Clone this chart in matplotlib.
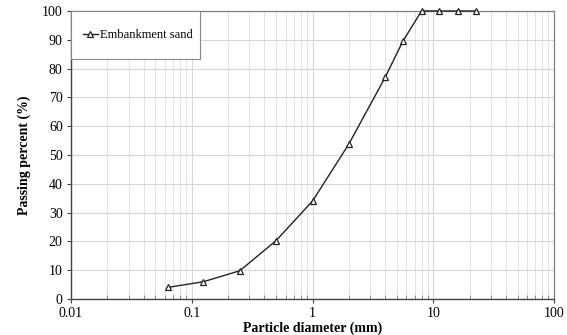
import numpy as np
import matplotlib.pyplot as plt
from matplotlib.patches import Rectangle
from matplotlib.ticker import FixedLocator, NullFormatter

# Grain size distribution data
diameter = [0.063, 0.125, 0.25, 0.5, 1.0, 2.0, 4.0, 5.6, 8.0, 11.2, 16.0, 22.4]
passing = [4.0, 6.0, 9.8, 20.3, 34.0, 53.8, 77.0, 89.5, 100.0, 100.0, 100.0, 100.0]
x_ticks = [0.01, 0.1, 1, 10, 100]
x_tick_labels = ['0.01', '0.1', '1', '10', '100']
y_ticks = [0, 10, 20, 30, 40, 50, 60, 70, 80, 90, 100]

plt.rcParams['font.family'] = ['Liberation Serif', 'DejaVu Serif']

fig = plt.figure(figsize=(5.67, 3.35), dpi=100)
ax = fig.add_axes([0.1252, 0.1075, 0.8519, 0.8597])

ax.plot(diameter, passing, color='#222222', lw=1.0, marker='^', markersize=5,
        markerfacecolor='white', markeredgecolor='#222222', markeredgewidth=0.9,
        label='Embankment sand', clip_on=False, zorder=3)

ax.set_xscale('log')
ax.set_xlim(0.01, 100)
ax.set_ylim(0, 100)
ax.set_xticks(x_ticks)
ax.set_xticklabels(x_tick_labels)
minor = [m * d for d in x_ticks[:-1] for m in range(2, 10)]
ax.xaxis.set_minor_locator(FixedLocator(minor))
ax.xaxis.set_minor_formatter(NullFormatter())
ax.set_yticks(y_ticks)

ax.grid(True, which='major', color='#d6d6d6', lw=0.8)
ax.grid(True, which='minor', axis='x', color='#e3e3e3', lw=0.7)
ax.set_axisbelow(True)

ax.tick_params(axis='both', which='major', labelsize=10, length=3, width=0.8,
               color='#444444', pad=3)
ax.tick_params(axis='x', which='minor', direction='in', length=3, width=0.6,
               color='#777777')

for side in ['left', 'bottom']:
    ax.spines[side].set_color('#444444')
    ax.spines[side].set_linewidth(1.0)
for side in ['top', 'right']:
    ax.spines[side].set_color('#808080')
    ax.spines[side].set_linewidth(0.9)

ax.set_xlabel('Particle diameter (mm)', fontsize=10, fontweight='bold', labelpad=1)
ax.set_ylabel('Passing percent (%)', fontsize=10, fontweight='bold', labelpad=8)

# legend box drawn separately so its padding matches the original
box_top, box_bottom, box_right = 1.0, 0.833, 0.267
ax.add_patch(Rectangle((0.0, box_bottom), box_right, box_top - box_bottom,
                       transform=ax.transAxes, facecolor='white',
                       edgecolor='#888888', lw=0.8, zorder=4, clip_on=False))
leg = ax.legend(loc='center left', bbox_to_anchor=(0.0, (box_top + box_bottom) / 2),
                fontsize=9, frameon=False, borderpad=0.95, handlelength=1.2,
                handletextpad=0.2, borderaxespad=0, markerscale=0.9)
leg.set_zorder(5)

fig.savefig('out.png', dpi=100)
